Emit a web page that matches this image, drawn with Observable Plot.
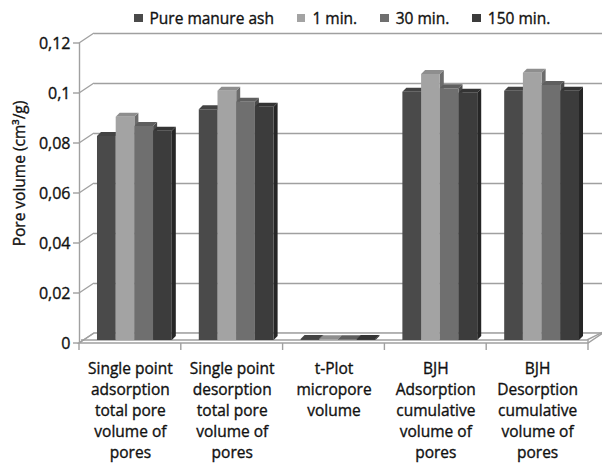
<!DOCTYPE html>
<html>
<head>
<meta charset="utf-8">
<script src="https://cdn.jsdelivr.net/npm/d3@7"></script>
<script src="https://cdn.jsdelivr.net/npm/@observablehq/plot@0.6"></script>
<style>
  body { margin: 0; background: #fff; font-family: "Open Sans", sans-serif; color: #111; }
  #legend { position: relative; height: 30px; width: 602px; display: flex; align-items: center;
            padding-left: 134px; padding-top: 6px; box-sizing: border-box; font-size: 15.5px;
            -webkit-text-stroke: 0.35px #111; }
  #legend .item { display: flex; align-items: center; margin-right: 23px; }
  #legend .sw { width: 8.5px; height: 8.5px; margin-right: 7px; }
  svg text { fill: #111; stroke: #111; stroke-width: 0.35px; }
</style>
</head>
<body>
<div id="legend"></div>
<div id="chart"></div>
<script>
// Measurement groups along the x axis
const categories = [
  "Single point\nadsorption\ntotal pore\nvolume of\npores",
  "Single point\ndesorption\ntotal pore\nvolume of\npores",
  "t-Plot\nmicropore\nvolume",
  "BJH\nAdsorption\ncumulative\nvolume of\npores",
  "BJH\nDesorption\ncumulative\nvolume of\npores"
];

// Samples (one bar per sample in every group)
const seriesNames = ["Pure manure ash", "1 min.", "30 min.", "150 min."];

// Pore volume, cm³/g
const pureManureAsh = [0.0816, 0.0923, 0.0004, 0.0993, 0.0997];
const oneMin        = [0.0893, 0.0997, 0.0003, 0.1064, 0.1069];
const thirtyMin     = [0.0856, 0.0953, 0.0003, 0.1007, 0.1020];
const oneFiftyMin   = [0.0837, 0.0933, 0.0004, 0.0989, 0.0997];

const yTicks = [0, 0.02, 0.04, 0.06, 0.08, 0.1, 0.12];

// Shades: front, top and right side of each 3-D column
const frontColors = ["#4a4a4a", "#a3a3a3", "#6f6f6f", "#3c3c3c"];
const topColors   = ["#434343", "#8e8e8e", "#5f5f5f", "#343434"];
const sideColors  = ["#333333", "#6c6c6c", "#4b4b4b", "#262626"];

const GRID = "#a0a0a0";
// Perspective of the floor and back wall (px)
const WX = 15, WY = -10;
// Columns stand a little way into the floor, and have a small depth of their own
const OX = 4.5, OY = -3;
const DX = 4, DY = -4;
// Columns take the middle of each category slot
const GAP = 0.1325, BW = (1 - 2 * GAP) / 4;

const seriesValues = [pureManureAsh, oneMin, thirtyMin, oneFiftyMin];
const bars = [];
categories.forEach((_, c) => seriesValues.forEach((vals, s) =>
  bars.push({c, s, series: seriesNames[s], v: vals[c]})));
const bx1 = d => d.c + GAP + d.s * BW;
const bx2 = d => d.c + GAP + (d.s + 1) * BW;

// Legend
const legend = d3.select("#legend");
seriesNames.forEach((name, i) => {
  const it = legend.append("div").attr("class", "item");
  it.append("div").attr("class", "sw").style("background", frontColors[i]);
  it.append("span").text(name);
});

const fmt = d => String(d).replace(".", ",");

// Floor slab, wall connectors and tick marks
function frame(index, {x, y}) {
  const g = d3.create("svg:g").attr("stroke", GRID).attr("stroke-width", 1.4).attr("fill", "none");
  const y0 = y(0), xa = x(0), xb = x(categories.length);
  g.append("polygon")
    .attr("fill", "#fff")
    .attr("points", [[xa, y0], [xb, y0], [xb + WX, y0 + WY], [xa + WX, y0 + WY]].join(" "));
  // thickness of the floor slab
  g.append("polyline")
    .attr("points", [[xa + 2, y0 - 3], [xb - 1, y0 - 3], [xb + WX, y0 + WY - 1]].join(" "));
  g.append("line").attr("x1", xb).attr("y1", y0 - 3).attr("x2", xb).attr("y2", y0);
  for (const t of yTicks) {
    g.append("line").attr("x1", xa).attr("y1", y(t)).attr("x2", xa + WX).attr("y2", y(t) + WY);
    g.append("line").attr("x1", xa - 6).attr("y1", y(t)).attr("x2", xa).attr("y2", y(t));
  }
  for (let i = 0; i <= categories.length; i++) {
    g.append("line").attr("x1", x(i)).attr("y1", y0).attr("x2", x(i)).attr("y2", y0 + 7);
  }
  return g.node();
}

// Right side or top face of each column
function faces(kind) {
  return (index, {x, y}) => {
    const g = d3.create("svg:g").attr("aria-label", "column " + kind);
    for (const d of bars) {
      const L = x(bx1(d)) + OX, R = x(bx2(d)) + OX;
      const B = y(0) + OY, T = y(d.v) + OY;
      const pts = kind === "side"
        ? [[R, B], [R, T], [R + DX, T + DY], [R + DX, B + DY]]
        : [[L, T], [R, T], [R + DX, T + DY], [L + DX, T + DY]];
      g.append("polygon")
        .attr("points", pts.join(" "))
        .attr("fill", (kind === "side" ? sideColors : topColors)[d.s]);
    }
    return g.node();
  };
}

const plot = Plot.plot({
  width: 602,
  height: 435,
  marginLeft: 79,
  marginRight: 14,
  marginTop: 13,
  marginBottom: 122,
  x: {domain: [0, categories.length], axis: null},
  y: {domain: [0, 0.12], axis: null},
  color: {domain: seriesNames, range: frontColors},
  style: {fontFamily: "'Open Sans', sans-serif", fontSize: "15.5px", background: "#fff", overflow: "visible"},
  marks: [
    // back wall gridlines
    Plot.ruleY(yTicks, {y: d => d, x1: 0, x2: categories.length, dx: WX, dy: WY, stroke: GRID, strokeWidth: 1.4}),
    frame,
    Plot.ruleX([0], {y1: 0, y2: 0.12, stroke: GRID, strokeWidth: 1.4}),
    faces("side"),
    faces("top"),
    Plot.rect(bars, {x1: bx1, x2: bx2, y1: 0, y2: "v", fill: "series", dx: OX, dy: OY}),
    Plot.text(yTicks, {x: 0, y: d => d, text: fmt, dx: -9, textAnchor: "end", fontSize: 16}),
    Plot.text(categories, {x: (d, i) => i + 0.5, y: () => 0, text: d => d,
      lineAnchor: "top", dy: 16, lineHeight: 1.35}),
    Plot.text(["Pore volume (cm³/g)"], {frameAnchor: "left", text: d => d, rotate: -90,
      textAnchor: "middle", dx: -59, dy: -20})
  ]
});
document.getElementById("chart").appendChild(plot);
</script>
</body>
</html>
